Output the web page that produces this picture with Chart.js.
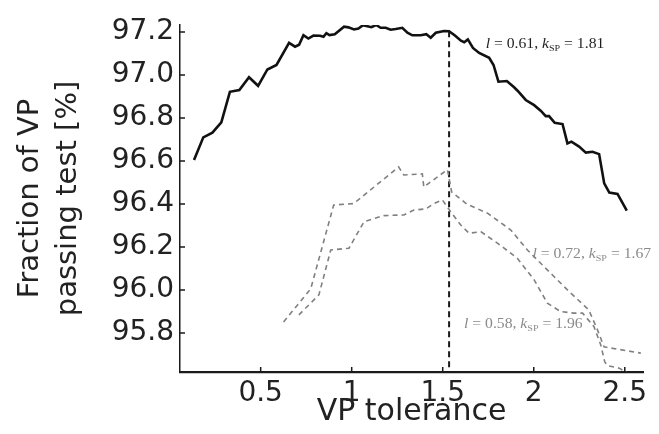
<!DOCTYPE html>
<html><head><meta charset="utf-8">
<script src="https://cdn.jsdelivr.net/npm/chart.js@4.4.0/dist/chart.umd.min.js"></script>
<style>html,body{margin:0;padding:0;background:#fff;}canvas{display:block;}</style>
</head><body>
<canvas id="c" width="659" height="434"></canvas>
<script>
// ---- data ----
const xTicks = [0.5, 1, 1.5, 2, 2.5];
const yTicks = [95.8, 96.0, 96.2, 96.4, 96.6, 96.8, 97.0, 97.2];
const xRange = [0.057, 2.6];
const yRange = [95.618, 97.233];

// best curve: l = 0.61, kSP = 1.81
const bestX = [0.134,0.185,0.235,0.284,0.331,0.383,0.436,0.486,0.537,0.587,0.656,0.689,0.711,0.735,0.762,0.790,0.826,0.845,0.861,0.878,0.907,0.958,0.982,1.013,1.037,1.062,1.108,1.134,1.159,1.187,1.214,1.242,1.278,1.306,1.333,1.379,1.410,1.434,1.462,1.507,1.535,1.567,1.600,1.618,1.638,1.666,1.700,1.755,1.779,1.806,1.852,1.892,1.911,1.956,2.002,2.038,2.066,2.084,2.115,2.158,2.185,2.207,2.249,2.286,2.323,2.359,2.387,2.415,2.460,2.511];
const bestY = [96.605,96.710,96.732,96.780,96.922,96.930,96.990,96.950,97.026,97.047,97.150,97.132,97.141,97.186,97.170,97.184,97.183,97.178,97.195,97.186,97.190,97.225,97.222,97.212,97.217,97.232,97.223,97.233,97.220,97.220,97.211,97.214,97.220,97.197,97.185,97.185,97.190,97.174,97.197,97.205,97.204,97.184,97.160,97.153,97.166,97.126,97.103,97.080,97.047,96.969,96.972,96.943,96.927,96.884,96.860,96.834,96.809,96.809,96.778,96.772,96.682,96.690,96.667,96.639,96.643,96.632,96.496,96.453,96.447,96.369];

// l = 0.72, kSP = 1.67
const upperX = [0.626,0.775,0.901,1.011,1.258,1.286,1.388,1.396,1.526,1.549,1.632,1.746,1.874,1.965,2.057,2.185,2.302,2.350,2.386,2.588];
const upperY = [95.851,96.005,96.395,96.402,96.572,96.535,96.540,96.479,96.560,96.456,96.400,96.357,96.279,96.186,96.108,96.000,95.907,95.814,95.735,95.706];

// l = 0.58, kSP = 1.96
const lowerX = [0.710,0.820,0.885,0.985,1.068,1.177,1.287,1.342,1.407,1.453,1.498,1.544,1.599,1.645,1.709,1.802,1.910,2.002,2.075,2.148,2.221,2.268,2.331,2.368,2.390,2.407,2.469,2.560];
const lowerY = [95.884,95.977,96.186,96.194,96.318,96.346,96.349,96.372,96.377,96.403,96.419,96.364,96.302,96.264,96.271,96.217,96.147,96.047,95.938,95.899,95.892,95.892,95.829,95.744,95.665,95.647,95.636,95.590];

const cutX = 1.535;

// annotation texts and their anchors (data units)
const annoL  = ['0.61', '0.72', '0.58'];
const annoK  = ['1.81', '1.67', '1.96'];
const annoAtX = [1.736, 1.993, 1.617];
const annoAtY = [97.124, 96.147, 95.822];
const annoColor = ['#1e1e1e', '#8a8a8a', '#8a8a8a'];

const toPts = (xs, ys) => xs.map((v, i) => ({x: v, y: ys[i]}));
const cutTop = bestY[bestX.indexOf(cutX)];

const inwardTicks = {
  id: 'inwardTicks',
  afterDraw(chart) {
    const {ctx, chartArea: a, scales: {x, y}} = chart;
    ctx.save();
    ctx.strokeStyle = '#1a1a1a';
    ctx.lineWidth = 1.5;
    ctx.beginPath();
    xTicks.forEach(v => { const p = x.getPixelForValue(v); ctx.moveTo(p, a.bottom); ctx.lineTo(p, a.bottom - 5); });
    yTicks.forEach(v => { const p = y.getPixelForValue(v); ctx.moveTo(a.left, p); ctx.lineTo(a.left + 5, p); });
    ctx.stroke();
    ctx.restore();
  }
};

const annotations = {
  id: 'annotations',
  afterDatasetsDraw(chart) {
    const {ctx, scales: {x, y}} = chart;
    const serif = '"Liberation Serif", "DejaVu Serif", serif';
    annoL.forEach((lv, i) => {
      const parts = [
        ['l', 'italic 14px ' + serif, 0],
        [' = ' + lv + ', ', '14px ' + serif, 0],
        ['k', 'italic 14px ' + serif, 0],
        ['SP', '9px ' + serif, 3],
        [' = ' + annoK[i], '14px ' + serif, 0]
      ];
      ctx.save();
      ctx.translate(x.getPixelForValue(annoAtX[i]), y.getPixelForValue(annoAtY[i]));
      ctx.scale(1.12, 1);
      ctx.fillStyle = annoColor[i];
      ctx.textBaseline = 'alphabetic';
      ctx.textAlign = 'left';
      let cx = 0;
      parts.forEach(([t, f, dy]) => { ctx.font = f; ctx.fillText(t, cx, dy); cx += ctx.measureText(t).width; });
      ctx.restore();
    });
  }
};

const sans = '"DejaVu Sans", "Liberation Sans", sans-serif';

new Chart(document.getElementById('c'), {
  type: 'scatter',
  data: {
    datasets: [
      {data: toPts(upperX, upperY), showLine: true, borderColor: '#808080', borderWidth: 1.6, borderDash: [5, 4], pointRadius: 0, tension: 0},
      {data: toPts(lowerX, lowerY), showLine: true, borderColor: '#808080', borderWidth: 1.6, borderDash: [5, 4], pointRadius: 0, tension: 0},
      {data: [{x: cutX, y: cutTop}, {x: cutX, y: yRange[0]}], showLine: true, borderColor: '#1a1a1a', borderWidth: 2, borderDash: [6, 4], pointRadius: 0},
      {data: toPts(bestX, bestY), showLine: true, borderColor: '#111111', borderWidth: 2.6, pointRadius: 0, tension: 0}
    ]
  },
  options: {
    responsive: false,
    animation: false,
    events: [],
    layout: {padding: {top: 25, right: 16, left: 0, bottom: 0}},
    plugins: {legend: {display: false}, tooltip: {enabled: false}},
    scales: {
      x: {
        type: 'linear', min: xRange[0], max: xRange[1],
        afterBuildTicks: s => { s.ticks = xTicks.map(v => ({value: v})); },
        afterFit: s => { s.height = 62; },
        grid: {display: false, drawTicks: false},
        border: {display: true, color: '#1a1a1a', width: 2.2},
        ticks: {color: '#222', padding: 5, font: {family: sans, size: 28}, callback: v => String(v), maxRotation: 0, autoSkip: false},
        title: {display: true, text: 'VP tolerance', color: '#222', font: {family: sans, size: 30, lineHeight: 1.3}, padding: {top: 0, bottom: 2}}
      },
      y: {
        type: 'linear', min: yRange[0], max: yRange[1],
        afterBuildTicks: s => { s.ticks = yTicks.map(v => ({value: v})); },
        afterFit: s => { s.width = 180; },
        grid: {display: false, drawTicks: false},
        border: {display: true, color: '#1a1a1a', width: 1.5},
        ticks: {color: '#222', padding: 6, font: {family: sans, size: 28}, callback: v => Number(v).toFixed(1), autoSkip: false},
        title: {display: true, text: ['Fraction of VP', 'passing test [%]'], color: '#222', font: {family: sans, size: 29, lineHeight: 1.3}, padding: {top: 12, bottom: 0}}
      }
    }
  },
  plugins: [inwardTicks, annotations]
});
</script>
</body></html>
